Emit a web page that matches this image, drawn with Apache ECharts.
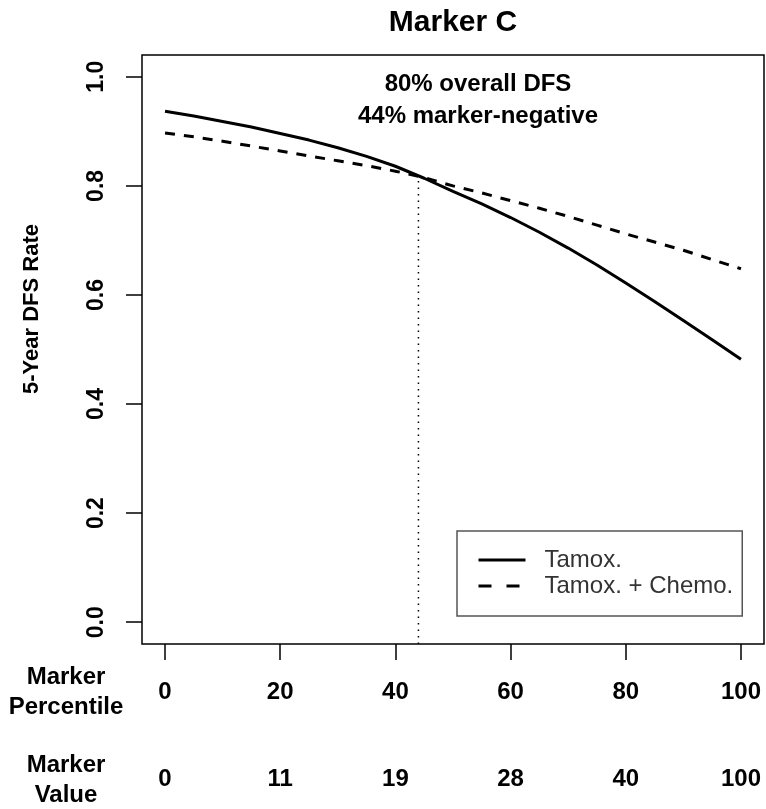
<!DOCTYPE html>
<html>
<head>
<meta charset="utf-8">
<script src="https://cdn.jsdelivr.net/npm/echarts@6/dist/echarts.min.js"></script>
<style>
html,body{margin:0;padding:0;background:#fff;}
#chart{width:766px;height:809px;}
</style>
</head>
<body>
<div id="chart"></div>
<script>
// ---- data ----
const percentiles = [0, 5, 10, 15, 20, 25, 30, 35, 40, 45, 50, 55, 60, 65, 70, 75, 80, 85, 90, 95, 100];
const tamox = [0.937, 0.928, 0.918, 0.908, 0.896, 0.884, 0.870, 0.854, 0.836, 0.814, 0.790,
               0.767, 0.742, 0.715, 0.686, 0.655, 0.622, 0.588, 0.553, 0.518, 0.482];
const tamoxChemo = [0.897, 0.890, 0.882, 0.873, 0.864, 0.855, 0.846, 0.837, 0.827, 0.815, 0.800,
                    0.787, 0.773, 0.759, 0.744, 0.728, 0.712, 0.697, 0.682, 0.665, 0.648];
const percentileTicks = [0, 20, 40, 60, 80, 100];
const markerValueTicks = ['0', '11', '19', '28', '40', '100'];
const yTicks = [0, 0.2, 0.4, 0.6, 0.8, 1.0];
const cutoffPercentile = 44;
const cutoffRate = 0.816;
const seriesNames = ['Tamox.', 'Tamox. + Chemo.'];
const titleText = 'Marker C';
const annotationLines = ['80% overall DFS', '44% marker-negative'];
const yTitle = '5-Year DFS Rate';

const FONT = 'Liberation Sans, Arial, Helvetica, sans-serif';
const chart = echarts.init(document.getElementById('chart'), null, {renderer: 'canvas'});

const X_MIN = -4, X_MAX = 104, Y_MIN = -0.04, Y_MAX = 1.04;

const option = {
  backgroundColor: '#fff',
  animation: false,
  grid: {
    left: 142, top: 55, width: 622, height: 589,
    show: true, borderColor: '#000', borderWidth: 1.5, backgroundColor: 'transparent'
  },
  xAxis: [
    {
      type: 'value', min: X_MIN, max: X_MAX, position: 'bottom',
      axisLine: {show: false, onZero: false},
      splitLine: {show: false},
      axisTick: {show: true, inside: false, customValues: percentileTicks, length: 16, lineStyle: {color: '#000', width: 1.5}},
      axisLabel: {customValues: percentileTicks, margin: 36, color: '#000', fontFamily: FONT,
        fontSize: 24, fontWeight: 'bold', lineHeight: 24}
    },
    {
      type: 'value', min: X_MIN, max: X_MAX, position: 'bottom', offset: 87,
      axisLine: {show: false, onZero: false},
      splitLine: {show: false},
      axisTick: {show: false},
      axisLabel: {customValues: percentileTicks, margin: 36, color: '#000', fontFamily: FONT,
        fontSize: 24, fontWeight: 'bold', lineHeight: 24,
        formatter: function (v) { return markerValueTicks[percentileTicks.indexOf(v)]; }}
    }
  ],
  yAxis: {
    type: 'value', min: Y_MIN, max: Y_MAX, position: 'left',
    axisLine: {show: false, onZero: false},
    splitLine: {show: false},
    axisTick: {show: true, inside: false, customValues: yTicks, length: 16, lineStyle: {color: '#000', width: 1.5}},
    axisLabel: {customValues: yTicks, rotate: 90, margin: 33, color: '#000', fontFamily: FONT,
      fontSize: 23, fontWeight: 'bold', lineHeight: 24,
      formatter: function (v) { return v.toFixed(1); }}
  },
  legend: {
    data: [
      {name: seriesNames[0], lineStyle: {width: 3, type: 'solid'}},
      {name: seriesNames[1], lineStyle: {width: 3, type: [13, 15]}}
    ],
    orient: 'vertical',
    left: 457, top: 531,
    itemWidth: 47, itemHeight: 14, itemGap: 0,
    padding: [16, 9, 17, 20],
    borderColor: '#555', borderWidth: 1.5,
    backgroundColor: '#fff',
    itemStyle: {opacity: 0},
    lineStyle: {width: 3},
    textStyle: {fontFamily: FONT, fontSize: 24, color: '#333', lineHeight: 26, padding: [0, 0, 0, 14]},
    selectedMode: false
  },
  graphic: [
    {type: 'text', x: 453, y: 23, style: {text: titleText, fontFamily: FONT, fontSize: 30, fontWeight: 'bold',
      fill: '#000', align: 'center', verticalAlign: 'middle'}},
    {type: 'text', x: 478, y: 100, style: {text: annotationLines.join('\n'), fontFamily: FONT, fontSize: 24,
      fontWeight: 'bold', lineHeight: 32, fill: '#000', align: 'center', verticalAlign: 'middle'}},
    {type: 'text', x: 32, y: 309, rotation: Math.PI / 2, style: {text: yTitle, fontFamily: FONT, fontSize: 22,
      fontWeight: 'bold', fill: '#000', align: 'center', verticalAlign: 'middle'}},
    {type: 'text', x: 66, y: 692, style: {text: 'Marker\nPercentile', fontFamily: FONT, fontSize: 24,
      fontWeight: 'bold', lineHeight: 30, fill: '#000', align: 'center', verticalAlign: 'middle'}},
    {type: 'text', x: 66, y: 780, style: {text: 'Marker\nValue', fontFamily: FONT, fontSize: 24,
      fontWeight: 'bold', lineHeight: 30, fill: '#000', align: 'center', verticalAlign: 'middle'}}
  ],
  series: [
    {
      name: seriesNames[0], type: 'line', xAxisIndex: 0,
      data: percentiles.map((p, i) => [p, tamox[i]]),
      symbol: 'none', smooth: false,
      lineStyle: {color: '#000', width: 3, type: 'solid'},
      itemStyle: {color: '#000'}, z: 3
    },
    {
      name: seriesNames[1], type: 'line', xAxisIndex: 0,
      data: percentiles.map((p, i) => [p, tamoxChemo[i]]),
      symbol: 'none', smooth: false,
      lineStyle: {color: '#000', width: 3, type: [10, 9]},
      itemStyle: {color: '#000'}, z: 3
    },
    {
      name: 'cutoff', type: 'line', xAxisIndex: 0,
      data: [[cutoffPercentile, Y_MIN], [cutoffPercentile, cutoffRate]],
      symbol: 'none',
      lineStyle: {color: '#000', width: 1.5, type: [1.5, 5]}, z: 2
    }
  ]
};
chart.setOption(option);
</script>
</body>
</html>
